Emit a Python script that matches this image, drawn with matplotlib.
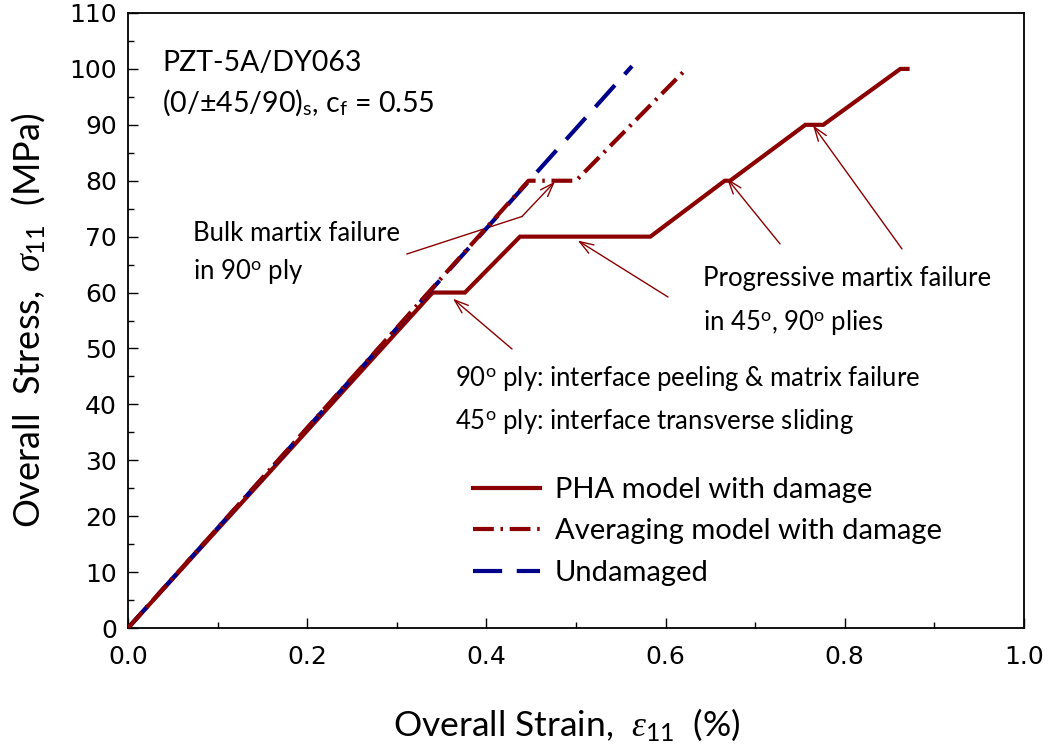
import matplotlib
matplotlib.use("Agg")
import matplotlib.pyplot as plt
from matplotlib.ticker import MultipleLocator

plt.rcParams['font.family'] = ['Lato', 'DejaVu Sans']
plt.rcParams['mathtext.fontset'] = 'custom'
plt.rcParams['mathtext.rm'] = 'Lato'
plt.rcParams['mathtext.it'] = 'Liberation Serif:italic'

# Data (strain %, stress MPa)
pha_strain = [0.0, 0.340, 0.376, 0.4375, 0.583, 0.666, 0.672, 0.756, 0.776, 0.862, 0.870]
pha_stress = [0.0, 60.0, 60.0, 70.0, 70.0, 80.0, 80.0, 90.0, 90.0, 100.0, 100.0]

avg_strain = [0.0, 0.447, 0.500, 0.620]
avg_stress = [0.0, 80.0, 80.0, 99.5]

und_strain = [0.0, 0.5625]
und_stress = [0.0, 100.5]

x_ticks = [0.0, 0.2, 0.4, 0.6, 0.8, 1.0]
y_ticks = list(range(0, 111, 10))

red = '#8B0000'
blue = '#00008B'

fig = plt.figure(figsize=(10.49, 7.53), dpi=100)
ax = fig.add_axes([128/1049, 1-628/753, (1024-128)/1049, (628-13)/753])

ax.plot(pha_strain, pha_stress, color=red, lw=3.0, solid_joinstyle='miter',
        label='PHA model with damage', zorder=2)
ax.plot(avg_strain, avg_stress, color=red, lw=3.0,
        dashes=(5, 1.6, 0.6, 1.6), dash_capstyle='butt',
        label='Averaging model with damage', zorder=4)
ax.plot(und_strain, und_stress, color=blue, lw=3.0,
        dashes=(7, 3.5), dash_capstyle='butt',
        label='Undamaged', zorder=3)

ax.set_xlim(0, 1.0)
ax.set_ylim(0, 110)
ax.set_xticks(x_ticks)
ax.set_yticks(y_ticks)
ax.xaxis.set_minor_locator(MultipleLocator(0.1))
ax.yaxis.set_minor_locator(MultipleLocator(5))
ax.set_xticklabels([f'{v:.1f}' for v in x_ticks], family='DejaVu Sans', fontsize=18)
ax.set_yticklabels([str(v) for v in y_ticks], family='DejaVu Sans', fontsize=18)
ax.tick_params(which='major', direction='in', length=7, width=1)
ax.tick_params(which='minor', direction='in', length=4, width=1)
ax.tick_params(axis='x', which='major', pad=12)
ax.tick_params(axis='y', which='major', pad=8)
for s in ax.spines.values():
    s.set_linewidth(1.3)

ax.set_xlabel(r'Overall Strain,  $\varepsilon_{11}$  (%)', fontsize=25.5)
ax.set_ylabel(r'Overall  Stress,  $\sigma_{11}$  (MPa)', fontsize=26)
ax.xaxis.label.set_va('center')
ax.yaxis.label.set_va('center')
ax.xaxis.set_label_coords(0.49, -0.158)
ax.yaxis.set_label_coords(-0.1116, 0.5)

ax.text(0.038, 101.0, 'PZT-5A/DY063', fontsize=20.5, va='center')
ax.text(0.038, 94.0, r'(0/±45/90)$_\mathrm{s}$, c$_\mathrm{f}$ = 0.55', fontsize=20.5, va='center')

fs = 18.5
ax.text(0.072, 70.6, 'Bulk martix failure', fontsize=fs, va='center')
ax.text(0.072, 63.8, r'in 90$^\mathrm{o}$ ply', fontsize=fs, va='center')

ax.text(0.642, 62.6, 'Progressive martix failure', fontsize=fs, va='center')
ax.text(0.642, 54.6, r'in 45$^\mathrm{o}$, 90$^\mathrm{o}$ plies', fontsize=fs, va='center')

ax.text(0.365, 44.6, r'90$^\mathrm{o}$ ply: interface peeling & matrix failure', fontsize=fs, va='center')
ax.text(0.365, 37.0, r'45$^\mathrm{o}$ ply: interface transverse sliding', fontsize=fs, va='center')

aprops = dict(arrowstyle='->,head_length=1.0,head_width=0.35', color=red, lw=1.0,
              shrinkA=0, shrinkB=0)
# bulk matrix failure: polyline then arrow
ax.plot([0.3114, 0.4397], [66.9, 73.6], color=red, lw=1.0)
ax.annotate('', xy=(0.4766, 79.85), xytext=(0.4397, 73.6), arrowprops=aprops)
# progressive
ax.annotate('', xy=(0.502, 69.3), xytext=(0.6027, 59.2), arrowprops=aprops)
ax.annotate('', xy=(0.6685, 80.4), xytext=(0.7277, 68.7), arrowprops=aprops)
ax.annotate('', xy=(0.7645, 89.9), xytext=(0.8638, 67.8), arrowprops=aprops)
# interface
ax.annotate('', xy=(0.3627, 58.9), xytext=(0.4286, 49.9), arrowprops=aprops)

leg = ax.legend(loc='upper left', bbox_to_anchor=(0.385, 0.2455), frameon=False,
                fontsize=21, handlelength=2.3, handletextpad=0.5,
                labelspacing=0.53, borderpad=0, borderaxespad=0)

fig.savefig('out.png', dpi=100)
